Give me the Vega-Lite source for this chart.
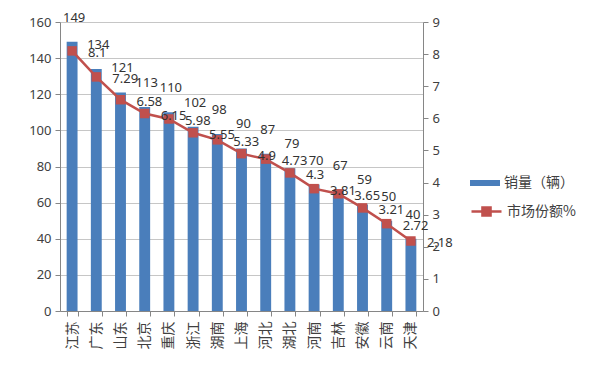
{
  "$schema": "https://vega.github.io/schema/vega-lite/v6.json",
  "width": 363,
  "height": 289,
  "autosize": {"type": "none"},
  "padding": {"left": 60, "top": 22, "right": 177, "bottom": 68},
  "background": "white",
  "config": {
    "font": "Noto Sans CJK SC",
    "view": {"stroke": null},
    "axis": {
      "domainColor": "#868686",
      "tickColor": "#868686",
      "tickSize": 5,
      "labelFontSize": 13,
      "labelColor": "#404040",
      "labelFont": "Noto Sans",
      "title": null
    }
  },
  "data": {
    "values": [
      {"province": "江苏", "sales": 149, "share": 8.1},
      {"province": "广东", "sales": 134, "share": 7.29},
      {"province": "山东", "sales": 121, "share": 6.58},
      {"province": "北京", "sales": 113, "share": 6.15},
      {"province": "重庆", "sales": 110, "share": 5.98},
      {"province": "浙江", "sales": 102, "share": 5.55},
      {"province": "湖南", "sales": 98, "share": 5.33},
      {"province": "上海", "sales": 90, "share": 4.9},
      {"province": "河北", "sales": 87, "share": 4.73},
      {"province": "湖北", "sales": 79, "share": 4.3},
      {"province": "河南", "sales": 70, "share": 3.81},
      {"province": "吉林", "sales": 67, "share": 3.65},
      {"province": "安徽", "sales": 59, "share": 3.21},
      {"province": "云南", "sales": 50, "share": 2.72},
      {"province": "天津", "sales": 40, "share": 2.18}
    ]
  },
  "encoding": {
    "x": {
      "field": "province",
      "type": "nominal",
      "sort": null,
      "scale": {"paddingInner": 0.55, "paddingOuter": 0.275},
      "axis": {
        "labelAngle": -90,
        "tickBand": "extent",
        "labelFont": "Noto Sans CJK SC",
        "labelFontSize": 14,
        "labelPadding": 5,
        "title": null
      }
    }
  },
  "layer": [
    {
      "encoding": {
        "y": {
          "field": "sales",
          "type": "quantitative",
          "scale": {"domain": [0, 160], "nice": false},
          "axis": {
            "orient": "left",
            "values": [0, 20, 40, 60, 80, 100, 120, 140, 160],
            "grid": true,
            "gridColor": "#C6C6C6",
            "labelPadding": 4,
            "title": null
          }
        }
      },
      "layer": [
        {
          "mark": {"type": "bar", "color": "#4A7EBB"},
          "encoding": {
            "fill": {
              "datum": "销量（辆）",
              "scale": {"range": ["#4A7EBB"]},
              "legend": {
                "title": null,
                "orient": "none",
                "legendX": 410,
                "legendY": 146,
                "symbolType": "M-1,-0.2H1V0.2H-1Z",
                "symbolSize": 900,
                "symbolStrokeWidth": 0,
                "labelFontSize": 14,
                "labelColor": "#404040",
                "labelFont": "Noto Sans CJK SC",
                "labelOffset": 4
              }
            }
          }
        },
        {
          "mark": {"type": "text", "baseline": "middle", "dy": -24, "dx": 2, "fontSize": 13, "font": "Noto Sans", "color": "#333333"},
          "encoding": {"text": {"field": "sales", "type": "quantitative"}}
        }
      ]
    },
    {
      "encoding": {
        "y": {
          "field": "share",
          "type": "quantitative",
          "scale": {"domain": [0, 9], "nice": false},
          "axis": {
            "orient": "right",
            "values": [0, 1, 2, 3, 4, 5, 6, 7, 8, 9],
            "grid": false,
            "labelPadding": 4,
            "title": null
          }
        }
      },
      "layer": [
        {
          "mark": {"type": "line", "color": "#C0504D", "strokeWidth": 2.5},
          "encoding": {
            "stroke": {
              "datum": "市场份额%",
              "scale": {"range": ["#C0504D"]},
              "legend": {
                "title": null,
                "orient": "none",
                "legendX": 410,
                "legendY": 173,
                "symbolType": "M-1,0H1M-0.27,-0.27H0.27V0.27H-0.27Z",
                "symbolSize": 900,
                "symbolStrokeWidth": 2.5,
                "symbolFillColor": "#C0504D",
                "labelFontSize": 14,
                "labelColor": "#404040",
                "labelFont": "Noto Sans CJK SC",
                "labelOffset": 4
              }
            }
          }
        },
        {
          "mark": {"type": "point", "shape": "square", "filled": true, "size": 90, "color": "#C0504D", "opacity": 1}
        },
        {
          "mark": {"type": "text", "align": "left", "baseline": "middle", "dx": 16, "dy": 2, "fontSize": 13, "font": "Noto Sans", "color": "#333333"},
          "encoding": {"text": {"field": "share", "type": "quantitative"}}
        }
      ]
    }
  ],
  "resolve": {"scale": {"y": "independent"}}
}
